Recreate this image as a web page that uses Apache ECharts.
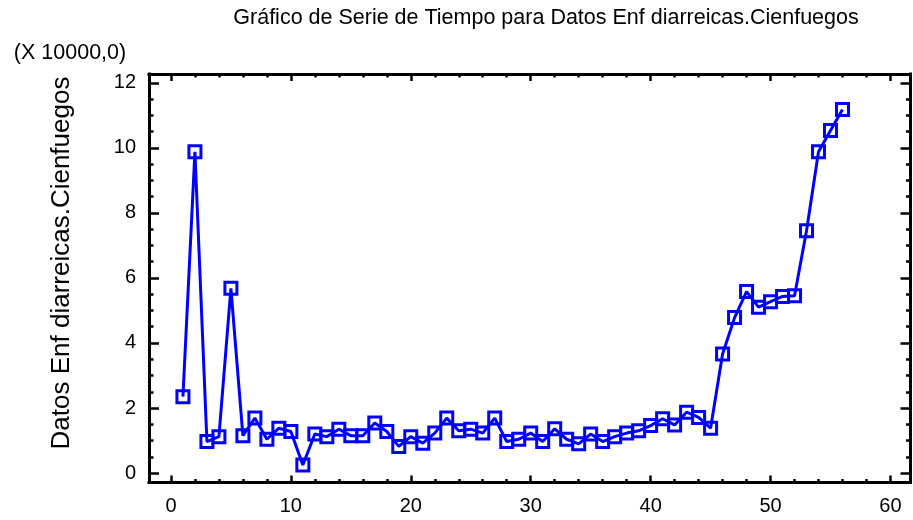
<!DOCTYPE html>
<html>
<head>
<meta charset="utf-8">
<title>Gráfico de Serie de Tiempo</title>
<script src="https://cdn.jsdelivr.net/npm/echarts@6/dist/echarts.min.js"></script>
<style>
  html, body { margin: 0; padding: 0; background: #ffffff; }
  #chart { width: 913px; height: 520px; }
</style>
</head>
<body>
<div id="chart"></div>
<script>
// Periodos (eje X)
const periodo = [
  1, 2, 3, 4, 5, 6, 7, 8, 9, 10, 11, 12, 13, 14, 15, 16, 17, 18, 19, 20,
  21, 22, 23, 24, 25, 26, 27, 28, 29, 30, 31, 32, 33, 34, 35, 36, 37, 38, 39, 40,
  41, 42, 43, 44, 45, 46, 47, 48, 49, 50, 51, 52, 53, 54, 55, 56
];

// Enfermedades diarreicas, Cienfuegos (en unidades de 10000)
const casos = [
  2.35, 9.88, 0.97, 1.12, 5.68, 1.15, 1.69, 1.04, 1.38, 1.28,
  0.25, 1.20, 1.12, 1.35, 1.15, 1.15, 1.54, 1.28, 0.82, 1.12,
  0.92, 1.23, 1.69, 1.30, 1.35, 1.23, 1.69, 0.97, 1.04, 1.23,
  0.97, 1.36, 1.04, 0.90, 1.20, 0.97, 1.12, 1.23, 1.30, 1.46,
  1.67, 1.48, 1.87, 1.71, 1.38, 3.66, 4.78, 5.58, 5.10, 5.27,
  5.43, 5.45, 7.45, 9.88, 10.53, 11.18
];

// Marcas de los ejes
const xMayores = [0, 10, 20, 30, 40, 50, 60];
const xMenores = [0, 2, 4, 6, 8, 10, 12, 14, 16, 18, 20, 22, 24, 26, 28, 30,
                  32, 34, 36, 38, 40, 42, 44, 46, 48, 50, 52, 54, 56, 58, 60];
const yMayores = [0, 2, 4, 6, 8, 10, 12];
const yMenores = [0, 0.5, 1, 1.5, 2, 2.5, 3, 3.5, 4, 4.5, 5, 5.5, 6, 6.5, 7, 7.5,
                  8, 8.5, 9, 9.5, 10, 10.5, 11, 11.5, 12];

const titulo = 'Gráfico de Serie de Tiempo para Datos Enf diarreicas.Cienfuegos';
const escala = '(X 10000,0)';
const nombreY = 'Datos Enf diarreicas.Cienfuegos';

const FUENTE = '"Liberation Sans", Arial, sans-serif';
const X_MIN = -1.83, X_MAX = 61.67;
const Y_MIN = -0.29, Y_MAX = 12.27;

function ejeX(pos, valores, largo, conEtiquetas, conLinea) {
  return {
    type: 'value', position: pos, min: X_MIN, max: X_MAX,
    splitLine: { show: false },
    axisLine: { show: conLinea, onZero: false,
      lineStyle: { color: '#000', width: 3, cap: 'square' } },
    axisTick: { show: true, inside: true, length: largo, customValues: valores,
      lineStyle: { color: '#000', width: 2.5 } },
    axisLabel: conEtiquetas
      ? { show: true, customValues: xMayores, margin: 14, color: '#000',
          fontFamily: FUENTE, fontSize: 20 }
      : { show: false }
  };
}

function ejeY(pos, valores, largo, conEtiquetas, conLinea) {
  return {
    type: 'value', position: pos, min: Y_MIN, max: Y_MAX,
    splitLine: { show: false },
    axisLine: { show: conLinea, onZero: false,
      lineStyle: { color: '#000', width: 3, cap: 'square' } },
    axisTick: { show: true, inside: true, length: largo, customValues: valores,
      lineStyle: { color: '#000', width: 2.5 } },
    axisLabel: conEtiquetas
      ? { show: true, customValues: yMayores, margin: 13, color: '#000',
          fontFamily: FUENTE, fontSize: 20 }
      : { show: false }
  };
}

const chart = echarts.init(document.getElementById('chart'), null, { renderer: 'canvas' });

chart.setOption({
  backgroundColor: '#ffffff',
  animation: false,
  grid: { left: 149, right: 2.5, top: 74, bottom: 37.5, containLabel: false },
  xAxis: [
    ejeX('bottom', xMayores, 7, true, true),
    ejeX('bottom', xMenores, 3.5, false, false),
    ejeX('top', xMayores, 7, false, true),
    ejeX('top', xMenores, 3.5, false, false)
  ],
  yAxis: [
    ejeY('left', yMayores, 10, true, true),
    ejeY('left', yMenores, 4.5, false, false),
    ejeY('right', yMayores, 10, false, true),
    ejeY('right', yMenores, 4.5, false, false)
  ],
  graphic: [
    { type: 'text', x: 546, y: 18, silent: true,
      style: { text: titulo, fill: '#000', font: '21.5px ' + FUENTE,
               textAlign: 'center', textVerticalAlign: 'middle' } },
    { type: 'text', x: 70, y: 53, silent: true,
      style: { text: escala, fill: '#000', font: '21.5px ' + FUENTE,
               textAlign: 'center', textVerticalAlign: 'middle' } },
    { type: 'text', x: 62, y: 263, rotation: Math.PI / 2, silent: true,
      style: { text: nombreY, fill: '#000', font: '26px ' + FUENTE,
               textAlign: 'center', textVerticalAlign: 'middle' } }
  ],
  series: [{
    type: 'line',
    xAxisIndex: 0,
    yAxisIndex: 0,
    data: periodo.map((p, i) => [p, casos[i]]),
    showAllSymbol: true,
    symbol: 'rect',
    symbolSize: 12,
    itemStyle: { color: 'rgba(0,0,0,0)', borderColor: '#0000ff', borderWidth: 3 },
    lineStyle: { color: '#0000ff', width: 3 },
    emphasis: { disabled: true },
    z: 3
  }]
});
</script>
</body>
</html>
